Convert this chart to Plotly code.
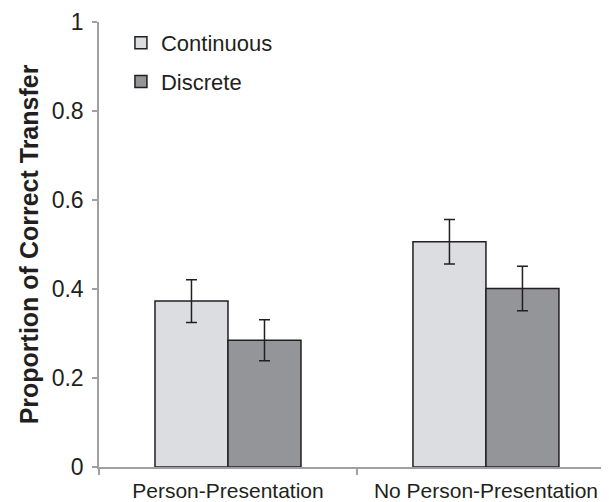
import plotly.graph_objects as go

categories = ["Person-Presentation", "No Person-Presentation"]
continuous = [0.373, 0.506]
continuous_err = [0.048, 0.050]
discrete = [0.285, 0.401]
discrete_err = [0.046, 0.050]
y_ticks = [0, 0.2, 0.4, 0.6, 0.8, 1]
y_ticktext = ["0", "0.2", "0.4", "0.6", "0.8", "1"]

FONT = "Liberation Sans, Arial, sans-serif"
EDGE = "#231f20"

fig = go.Figure()
fig.add_trace(go.Bar(
    name="Continuous", x=categories, y=continuous, legendgroup="a",
    marker=dict(color="#dcdde0", line=dict(color=EDGE, width=1.5)),
    error_y=dict(type="data", array=continuous_err, color=EDGE, thickness=1.5, width=5.5),
))
fig.add_trace(go.Bar(
    name="Discrete", x=categories, y=discrete, legendgroup="b",
    marker=dict(color="#939598", line=dict(color=EDGE, width=1.5)),
    error_y=dict(type="data", array=discrete_err, color=EDGE, thickness=1.5, width=5.5),
))

fig.update_layout(
    width=601, height=494,
    margin=dict(l=91, r=0, t=14, b=35),
    paper_bgcolor="white", plot_bgcolor="white",
    barmode="group", bargap=0.434, bargroupgap=0,
    font=dict(family=FONT, size=22, color="#231f20"),
    showlegend=True,
    legend=dict(x=0.043, y=1.0, xanchor="left", yanchor="top",
                bgcolor="rgba(0,0,0,0)", font=dict(size=22),
                tracegroupgap=7, itemwidth=30),
    xaxis=dict(
        type="category", range=[-0.5, 1.477], automargin=False,
        showline=True, linecolor="#a0a0a0", linewidth=1.5,
        ticks="outside", tickson="boundaries", ticklen=6, tickcolor="#a0a0a0", tickwidth=1.5,
        ticklabelstandoff=4,
        showgrid=False, zeroline=False,
        tickfont=dict(size=21),
    ),
    yaxis=dict(
        range=[0, 1], tickvals=y_ticks, ticktext=y_ticktext, automargin=False,
        showline=True, linecolor="#a0a0a0", linewidth=1.5,
        ticks="outside", ticklen=5, tickcolor="#a0a0a0", tickwidth=1.5,
        ticklabelstandoff=4,
        showgrid=False, zeroline=False,
        tickfont=dict(size=23),
        title=dict(text="<b>Proportion of Correct Transfer</b>", font=dict(size=25), standoff=6),
    ),
)

fig.write_html("out.html")
